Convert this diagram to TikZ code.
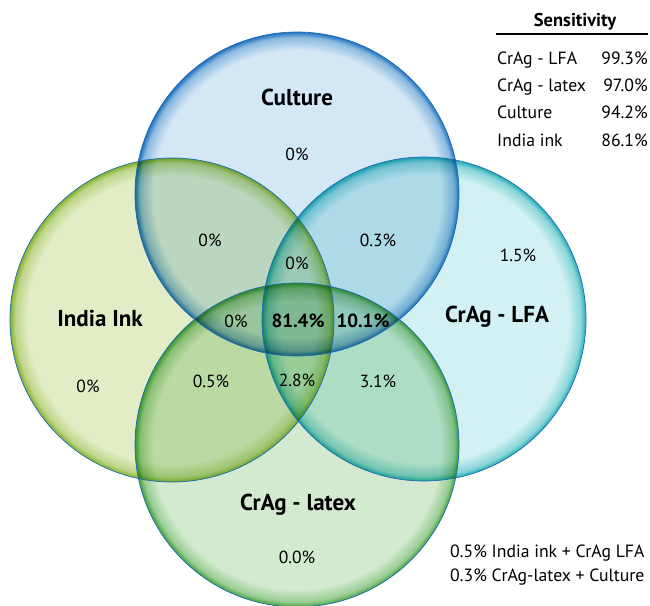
\documentclass[tikz,border=0pt]{standalone}
\usepackage{fontspec}
\setmainfont{PT Sans}
\usetikzlibrary{shapes, positioning}

\definecolor{cultfill}{HTML}{D3E7F5}
\definecolor{cultedge}{HTML}{1F73C0}
\definecolor{inkfill}{HTML}{E2EDC7}
\definecolor{inkedge}{HTML}{86B22A}
\definecolor{lfafill}{HTML}{D3F1F2}
\definecolor{lfaedge}{HTML}{1FAEB4}
\definecolor{latexfill}{HTML}{D3EAD0}
\definecolor{latexedge}{HTML}{45A23A}
\definecolor{outline}{HTML}{1F6BB5}
\colorlet{cultmid}{cultedge!40!cultfill}
\colorlet{inkmid}{inkedge!40!inkfill}
\colorlet{lfamid}{lfaedge!40!lfafill}
\colorlet{latexmid}{latexedge!40!latexfill}

\pgfdeclareradialshading{cultshade}{\pgfpoint{0bp}{0bp}}{color(0bp)=(cultfill); color(22.2bp)=(cultfill); color(24.2bp)=(cultmid); color(25bp)=(cultedge); color(50bp)=(cultedge)}
\pgfdeclareradialshading{inkshade}{\pgfpoint{0bp}{0bp}}{color(0bp)=(inkfill); color(22.2bp)=(inkfill); color(24.2bp)=(inkmid); color(25bp)=(inkedge); color(50bp)=(inkedge)}
\pgfdeclareradialshading{lfashade}{\pgfpoint{0bp}{0bp}}{color(0bp)=(lfafill); color(22.2bp)=(lfafill); color(24.2bp)=(lfamid); color(25bp)=(lfaedge); color(50bp)=(lfaedge)}
\pgfdeclareradialshading{latexshade}{\pgfpoint{0bp}{0bp}}{color(0bp)=(latexfill); color(22.2bp)=(latexfill); color(24.2bp)=(latexmid); color(25bp)=(latexedge); color(50bp)=(latexedge)}

\begin{document}
\begin{tikzpicture}[x=1pt, y=-1pt,
    setcirc/.style={circle, minimum size=324pt, inner sep=0pt, draw=none, shade},
    ring/.style={draw=outline, line width=0.7pt},
    setlabel/.style={font=\fontsize{23}{27}\selectfont\bfseries, text=black, inner sep=0pt},
    pct/.style={font=\fontsize{17.5}{20}\selectfont, text=black, inner sep=0pt},
    bigpct/.style={font=\fontsize{19}{22}\selectfont\bfseries, text=black, inner sep=0pt},
    tabrow/.style={font=\fontsize{17.7}{20}\selectfont, text=black, inner sep=0pt}
]
\useasboundingbox (0,0) rectangle (650,605);

% circles, mixed by multiply
\begin{scope}[blend group=multiply]
    \node (Cult) [setcirc, shading=cultshade] at (297,194) {};
    \node (Ink) [setcirc, shading=inkshade] at (172,320) {};
    \node (LFA) [setcirc, shading=lfashade] at (424,319) {};
    \node (Latex) [setcirc, shading=latexshade] at (297,445) {};
\end{scope}
\draw [ring] (Cult) circle (162pt);
\draw [ring] (Ink) circle (162pt);
\draw [ring] (LFA) circle (162pt);
\draw [ring] (Latex) circle (162pt);

% set names
\node (NCult) [setlabel] at (297,97) {Culture};
\node (NInk) [setlabel] at (100,318) {India Ink};
\node (NLFA) [setlabel] at (497,317) {CrAg - LFA};
\node (NLatex) [setlabel] at (298,505) {CrAg - latex};

% region values
\node (PCult) [pct] at (297,154) {0\%};
\node (PInk) [pct] at (88,386) {0\%};
\node (PLFA) [pct] at (518,255) {1.5\%};
\node (PLatex) [pct] at (297,557) {0.0\%};
\node (PCultInk) [pct] at (210,240) {0\%};
\node (PCultLFA) [pct] at (378,240) {0.3\%};
\node (PCultInkLFA) [pct] at (297,263) {0\%};
\node (PCultInkLatex) [pct] at (236,321) {0\%};
\node (PAll) [bigpct] at (298,321) {81.4\%};
\node (PCultLFALatex) [bigpct] at (363,321) {10.1\%};
\node (PInkLFALatex) [pct] at (297,380) {2.8\%};
\node (PInkLatex) [pct] at (211,381) {0.5\%};
\node (PLFALatex) [pct] at (378,381) {3.1\%};

% sensitivity table
\node (Head) [setlabel, font=\fontsize{18.5}{22}\selectfont\bfseries, anchor=base] at (575,26) {Sensitivity};
\coordinate (RuleL) at (496,34);
\coordinate (RuleR) at (648,34);
\draw [line width=1.3pt] (RuleL) -- (RuleR);
\node (T1a) [tabrow, anchor=base west] at (497,64) {CrAg - LFA};
\node (T1b) [tabrow, anchor=base east] at (648,64) {99.3\%};
\node (T2a) [tabrow, anchor=base west] at (497,91) {CrAg - latex};
\node (T2b) [tabrow, anchor=base east] at (648,91) {97.0\%};
\node (T3a) [tabrow, anchor=base west] at (497,118) {Culture};
\node (T3b) [tabrow, anchor=base east] at (648,118) {94.2\%};
\node (T4a) [tabrow, anchor=base west] at (497,146) {India ink};
\node (T4b) [tabrow, anchor=base east] at (648,146) {86.1\%};

% notes
\node (Note1) [tabrow, anchor=base west] at (450,557) {0.5\% India ink + CrAg LFA};
\node (Note2) [tabrow, anchor=base west] at (450,581) {0.3\% CrAg-latex + Culture};

\end{tikzpicture}
\end{document}
